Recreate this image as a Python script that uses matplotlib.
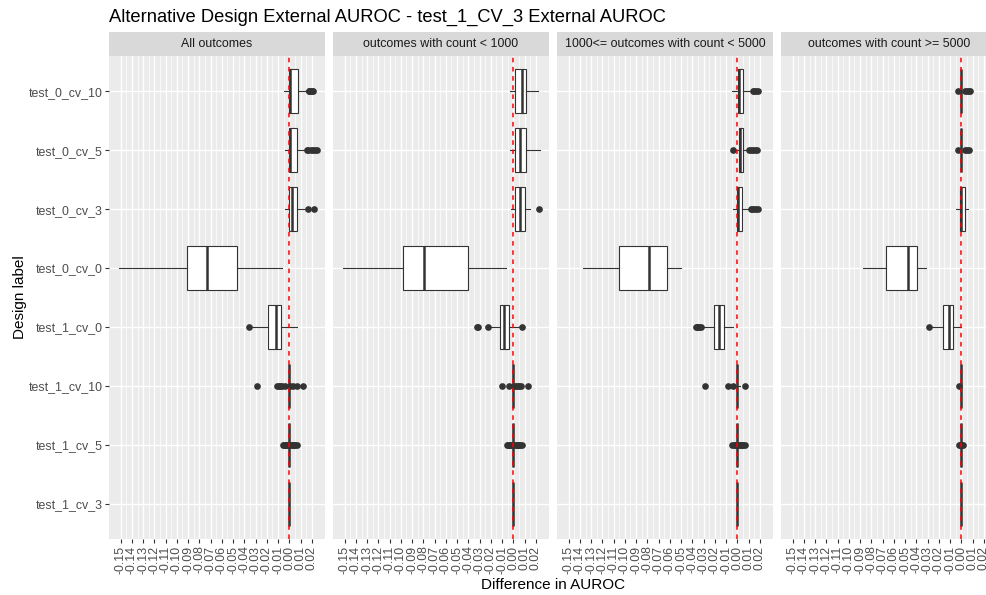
import matplotlib
matplotlib.use('Agg')
import matplotlib.pyplot as plt
import numpy as np

plt.rcParams['font.family'] = ['Liberation Sans', 'DejaVu Sans']

# categories, bottom to top (ggplot factor order)
designs = ['test_1_cv_3', 'test_1_cv_5', 'test_1_cv_10', 'test_1_cv_0',
           'test_0_cv_0', 'test_0_cv_3', 'test_0_cv_5', 'test_0_cv_10']

facets = ['All outcomes', 'outcomes with count < 1000',
          '1000<= outcomes with count < 5000', 'outcomes with count >= 5000']

x_ticks = np.round(np.arange(-15, 3) / 100, 2)

# box stats per facet, same order as designs
all_lo = [-0.0003, 0.0, 0.0, -0.0345, -0.1515, -0.0038, -0.0038, -0.0044]
all_q1 = [-0.0003, 0.0, 0.0, -0.0187, -0.0907, 0.0, 0.0, 0.0]
all_med = [-0.0003, 0.0, 0.0, -0.0121, -0.0732, 0.0021, 0.0009, 0.0005]
all_q3 = [-0.0003, 0.0, 0.0, -0.0077, -0.0468, 0.0065, 0.0065, 0.0075]
all_hi = [-0.0003, 0.0, 0.0, 0.0066, -0.0068, 0.0146, 0.013, 0.0155]
all_out = [[],
           [-0.0058, -0.005, -0.004, -0.003, -0.002, -0.001, 0.001, 0.002, 0.003, 0.004, 0.005, 0.0065],
           [-0.0285, -0.0112, -0.0095, -0.008, -0.0068, -0.0036, 0.001, 0.0036, 0.0066, 0.0125],
           [-0.0358],
           [],
           [0.0169, 0.0222],
           [0.0156, 0.017, 0.019, 0.021, 0.023, 0.0245],
           [0.0172, 0.018, 0.019, 0.020, 0.0214]]

lt1k_lo = [-0.0005, 0.0, 0.0, -0.020, -0.1512, -0.0018, -0.0027, -0.0027]
lt1k_q1 = [-0.0005, 0.0, 0.0, -0.0116, -0.0979, 0.0015, 0.0015, 0.0015]
lt1k_med = [-0.0005, 0.0, 0.0, -0.0083, -0.0797, 0.0062, 0.006, 0.0077]
lt1k_q3 = [-0.0005, 0.0, 0.0, -0.0041, -0.0406, 0.0101, 0.011, 0.011]
lt1k_hi = [-0.0005, 0.0, 0.0, 0.006, -0.0068, 0.0151, 0.0237, 0.0217]
lt1k_out = [[],
            [-0.006, -0.005, -0.004, -0.003, -0.002, -0.001, 0.001, 0.002, 0.003, 0.004, 0.005, 0.006, 0.0074],
            [-0.0098, -0.0036, 0.0003, 0.002, 0.004, 0.0055, 0.007, 0.0134],
            [-0.0325, -0.0318, -0.0222, 0.008],
            [],
            [0.0229],
            [],
            []]

mid_lo = [-0.0005, 0.0, -0.0005, -0.0308, -0.137, -0.0038, -0.0012, -0.0047]
mid_q1 = [-0.0005, 0.0, -0.0005, -0.0205, -0.105, 0.0, 0.0015, 0.0003]
mid_med = [-0.0005, 0.0, -0.0005, -0.0163, -0.0789, 0.0009, 0.0027, 0.0012]
mid_q3 = [-0.0005, 0.0, -0.0005, -0.0121, -0.0628, 0.0045, 0.0048, 0.0053]
mid_hi = [-0.0005, 0.0, 0.002, -0.0041, -0.0504, 0.0107, 0.0092, 0.0113]
mid_out = [[],
           [-0.0045, -0.003, -0.002, -0.001, 0.001, 0.002, 0.003, 0.004, 0.005, 0.0066],
           [-0.0285, -0.0083, -0.0036, 0.0066],
           [-0.0367, -0.036, -0.035, -0.034, -0.0325],
           [],
           [0.0122, 0.0135, 0.015, 0.0165, 0.0181],
           [-0.0038, 0.0101, 0.012, 0.014, 0.016, 0.0175],
           [0.0137, 0.015, 0.0165, 0.0181]]

ge5k_lo = [-0.0003, 0.0, 0.0, -0.027, -0.0872, -0.0044, 0.0, 0.0]
ge5k_q1 = [-0.0003, 0.0, 0.0, -0.016, -0.0667, -0.0009, 0.0, 0.0]
ge5k_med = [-0.0003, 0.0, 0.0, -0.011, -0.0474, 0.0, 0.0, 0.0]
ge5k_q3 = [-0.0003, 0.0, 0.0, -0.0077, -0.0397, 0.003, 0.0, 0.0]
ge5k_hi = [-0.0003, 0.0, 0.0, 0.0, -0.0314, 0.0057, 0.0, 0.0]
ge5k_out = [[],
            [-0.0024, -0.001, 0.001, 0.0018],
            [-0.002],
            [-0.0288],
            [],
            [],
            [-0.0033, 0.0036, 0.005, 0.0071],
            [-0.0033, 0.0036, 0.005, 0.0065, 0.008]]

facet_stats = [
    (all_lo, all_q1, all_med, all_q3, all_hi, all_out),
    (lt1k_lo, lt1k_q1, lt1k_med, lt1k_q3, lt1k_hi, lt1k_out),
    (mid_lo, mid_q1, mid_med, mid_q3, mid_hi, mid_out),
    (ge5k_lo, ge5k_q1, ge5k_med, ge5k_q3, ge5k_hi, ge5k_out),
]

W, H = 986, 595


def pix_box(left, top, width, height):
    return [left / W, 1 - (top + height) / H, width / W, height / H]


fig = plt.figure(figsize=(W / 100, H / 100), dpi=100)

for i, (lo, q1, med, q3, hi, out) in enumerate(facet_stats):
    left = 109 + 224 * i
    ax = fig.add_axes(pix_box(left, 56, 216, 483))
    ax.set_facecolor('#EBEBEB')
    for s in ax.spines.values():
        s.set_visible(False)

    stats = []
    for k in range(len(designs)):
        stats.append(dict(whislo=lo[k], q1=q1[k], med=med[k], q3=q3[k],
                          whishi=hi[k], fliers=out[k]))

    ax.bxp(stats, positions=np.arange(1, len(designs) + 1), widths=0.75,
           orientation='horizontal', patch_artist=True, showcaps=False,
           boxprops=dict(facecolor='white', edgecolor='#333333', linewidth=0.8),
           medianprops=dict(color='#333333', linewidth=1.8),
           whiskerprops=dict(color='#333333', linewidth=0.8),
           flierprops=dict(marker='o', markerfacecolor='#333333',
                           markeredgecolor='#333333', markersize=3.8,
                           linestyle='none'))

    ax.axvline(0, color='#FF0000', linestyle=(0, (3, 3)), linewidth=1.1, zorder=6)

    ax.set_xlim(-0.1604, 0.0318)
    ax.set_ylim(0.4, len(designs) + 0.6)

    ax.set_xticks(x_ticks)
    ax.set_xticklabels([f'{v + 0.0:.2f}' for v in x_ticks])
    ax.set_xticks(x_ticks[:-1] + 0.005, minor=True)
    ax.set_yticks(np.arange(1, len(designs) + 1))

    ax.set_axisbelow(True)
    ax.grid(True, which='major', color='white', linewidth=1.0)
    ax.grid(True, which='minor', axis='x', color='white', linewidth=0.5)

    ax.tick_params(axis='x', which='major', length=2.7, width=0.8, color='#333333',
                   labelsize=8.9, labelcolor='#4D4D4D', labelrotation=90, pad=2)
    ax.tick_params(which='minor', length=0)
    if i == 0:
        ax.set_yticklabels(designs)
        ax.tick_params(axis='y', length=2.7, width=0.8, color='#333333',
                       labelsize=8.9, labelcolor='#4D4D4D', pad=2)
    else:
        ax.tick_params(axis='y', length=0, labelleft=False)

    # facet strip
    sx = fig.add_axes(pix_box(left, 32, 216, 24))
    sx.set_facecolor('#D9D9D9')
    sx.set_xticks([])
    sx.set_yticks([])
    for s in sx.spines.values():
        s.set_visible(False)
    sx.text(0.5, 0.5, facets[i], ha='center', va='center', fontsize=8.9,
            color='#1A1A1A', transform=sx.transAxes)

fig.text(109 / W, 1 - 22 / H,
         'Alternative Design External AUROC - test_1_CV_3 External AUROC',
         fontsize=13.2, va='baseline', ha='left')
fig.text(553 / W, 1 - 585 / H, 'Difference in AUROC', fontsize=11,
         ha='center', va='center')
fig.text(20 / W, 1 - 297 / H, 'Design label', fontsize=11, rotation=90,
         ha='center', va='center')

fig.savefig('out.png', dpi=100)
